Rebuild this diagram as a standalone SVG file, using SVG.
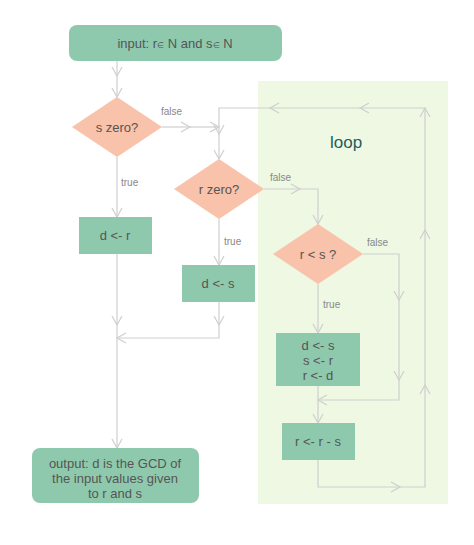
<svg xmlns="http://www.w3.org/2000/svg" width="474" height="545" viewBox="0 0 474 545">
<style>
.b{fill:#8fc9ad}.d{fill:#f9c2aa}
.t{font-family:"Liberation Sans",sans-serif;font-size:13px;fill:#555;text-anchor:middle}
.l{font-family:"Liberation Sans",sans-serif;font-size:10px;fill:#888}
.c{fill:none;stroke:#cfcfcf;stroke-width:1.2}
</style>
<defs><marker id="a" markerWidth="14" markerHeight="14" refX="10" refY="7" orient="auto" markerUnits="userSpaceOnUse"><path d="M1,2 L10,7 L1,12" fill="none" stroke="#cfcfcf" stroke-width="1.2"/></marker></defs>
<rect x="258" y="81" width="190" height="423" fill="#eef8e3"/>
<text x="330" y="148" font-family="Liberation Sans,sans-serif" font-size="17" fill="#1f5c5c">loop</text>
<g id="connectors" class="c" marker-end="url(#a)">
<path d="M117,61V76"/><path d="M117,76V97"/>
<path d="M162,127H190"/><path d="M190,127H219"/>
<path d="M425,108H360"/><path d="M360,108H270"/><path d="M270,108H219V134"/><path d="M219,134V159"/>
<path d="M117,157V217"/>
<path d="M264,189H300"/><path d="M300,189H318V224"/>
<path d="M219,219V265"/>
<path d="M363,254H399V300"/><path d="M399,300V380"/><path d="M399,380V400H318"/>
<path d="M318,284V333"/>
<path d="M318,386V423"/>
<path d="M318,460V487H400"/><path d="M400,487H425V385"/><path d="M425,385V230"/><path d="M425,230V108"/>
<path d="M117,254V325"/><path d="M117,325V448"/>
<path d="M219,302V325"/><path d="M219,325V338H117"/>
</g>
<g id="input"><rect class="b" x="69" y="25" width="213" height="36" rx="8"/><text class="t" x="175" y="48">input: r<tspan font-size="8">∈</tspan> N and s<tspan font-size="8">∈</tspan> N</text></g>
<g id="szero"><path class="d" d="M117,97L162,127L117,157L72,127Z"/><text class="t" x="117" y="132">s zero?</text></g>
<text class="l" x="161" y="115">false</text><text class="l" x="121" y="186">true</text>
<g id="dr"><rect class="b" x="79" y="217" width="73" height="37"/><text class="t" x="115" y="240">d &lt;- r</text></g>
<g id="rzero"><path class="d" d="M219,159L264,189L219,219L174,189Z"/><text class="t" x="219" y="194">r zero?</text></g>
<text class="l" x="270" y="181">false</text><text class="l" x="224" y="245">true</text>
<g id="ds"><rect class="b" x="182" y="265" width="73" height="37"/><text class="t" x="218" y="288">d &lt;- s</text></g>
<g id="rls"><path class="d" d="M318,224L363,254L318,284L273,254Z"/><text class="t" x="318" y="259">r &lt; s ?</text></g>
<text class="l" x="367" y="246">false</text><text class="l" x="323" y="308">true</text>
<g id="swap"><rect class="b" x="276" y="333" width="84" height="53"/><text class="t" x="318" y="350">d &lt;- s</text><text class="t" x="318" y="365">s &lt;- r</text><text class="t" x="318" y="380">r &lt;- d</text></g>
<g id="sub"><rect class="b" x="282" y="423" width="73" height="37"/><text class="t" x="318" y="446">r &lt;- r - s</text></g>
<g id="output"><rect class="b" x="32" y="448" width="167" height="55" rx="8"/><text class="t" x="115" y="468">output: d  is the GCD of</text><text class="t" x="115" y="483">the input values given</text><text class="t" x="115" y="498">to r and s</text></g>
</svg>
